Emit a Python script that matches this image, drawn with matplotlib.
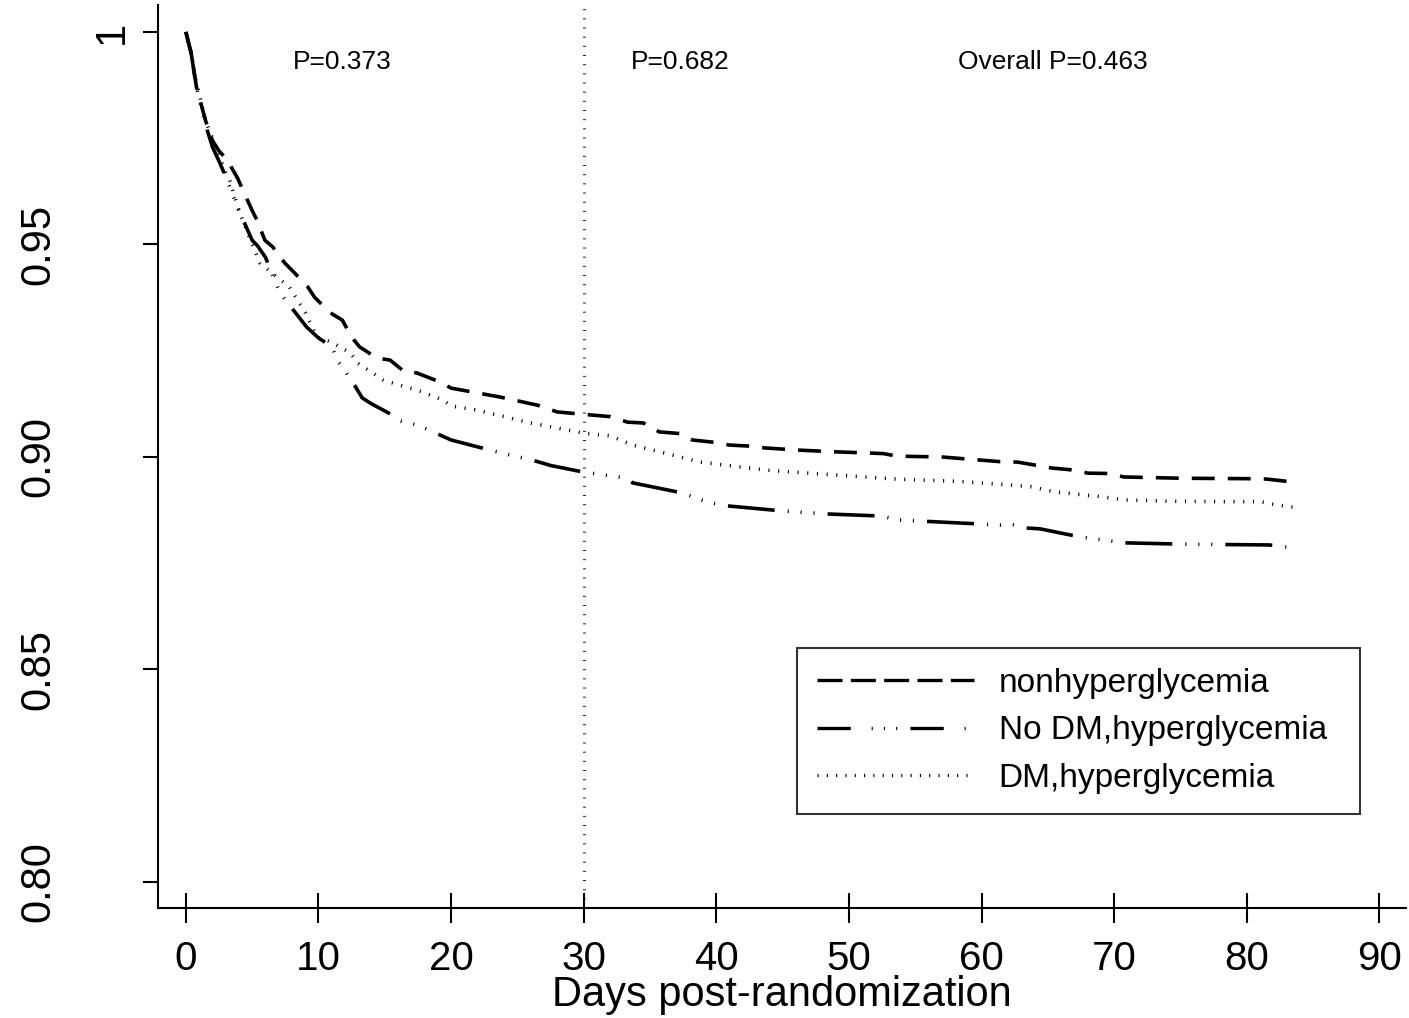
import matplotlib
matplotlib.use("Agg")
import matplotlib.pyplot as plt
from matplotlib.lines import Line2D

plt.rcParams['font.family'] = ['Liberation Sans', 'DejaVu Sans']
plt.rcParams['lines.scale_dashes'] = False

# ---- data ----
days_non = [0, 0.4, 0.8, 1.5, 2.0, 2.5, 3.1, 3.9, 4.3, 5.0, 5.35, 5.96, 6.56, 7.47, 8.2, 9.2,
            9.7, 10.9, 11.8, 12.5, 13.1, 14.4, 15.4, 16.5, 17.4, 19.2, 20.0, 23.7, 26.5, 28.0,
            30.5, 32.0, 33.3, 34.5, 35.7, 37.3, 38.2, 39.7, 41.0, 42.3, 43.8, 46.3, 49.1, 51.8,
            52.6, 53.6, 57.0, 61.4, 62.7, 64.4, 65.3, 67.0, 68.0, 69.8, 70.7, 75.0, 80.0, 81.5, 83.5]
surv_non = [1.0, 0.995, 0.987, 0.979, 0.9745, 0.972, 0.970, 0.9656, 0.9628, 0.958, 0.9558, 0.951,
            0.9494, 0.9456, 0.9433, 0.940, 0.9376, 0.9339, 0.9322, 0.9282, 0.9259, 0.9233, 0.9228,
            0.920, 0.9198, 0.9176, 0.9162, 0.9141, 0.9122, 0.9106, 0.9099, 0.9095, 0.9082, 0.9080,
            0.9059, 0.9055, 0.9040, 0.9035, 0.9028, 0.9026, 0.9021, 0.9016, 0.9012, 0.9009, 0.9008,
            0.9002, 0.9000, 0.8989, 0.8988, 0.8979, 0.8974, 0.8969, 0.8962, 0.8961, 0.8953, 0.8950,
            0.8949, 0.8948, 0.8941]

days_nodm = [0, 0.4, 0.8, 1.5, 2.0, 2.56, 3.0, 4.0, 5.0, 5.4, 6.0, 7.1, 8.0, 9.1, 10.0, 11.0, 11.5,
             12.5, 13.3, 14.0, 15.5, 16.1, 17.5, 20.0, 23.7, 26.1, 27.5, 29.9, 33.3, 33.7, 37.5,
             39.3, 40.8, 45.0, 48.3, 52.5, 53.6, 57.5, 61.4, 62.4, 63.3, 64.4, 67.4, 70.8, 75.0,
             78.4, 81.7, 83.5]
surv_nodm = [1.0, 0.995, 0.987, 0.978, 0.973, 0.9692, 0.966, 0.958, 0.951, 0.9497, 0.947, 0.9386,
             0.935, 0.9306, 0.928, 0.926, 0.9224, 0.918, 0.9139, 0.9125, 0.910, 0.9085, 0.9075,
             0.904, 0.901, 0.8993, 0.898, 0.8965, 0.8950, 0.8939, 0.8915, 0.8894, 0.8885, 0.8873,
             0.8866, 0.8861, 0.8852, 0.8846, 0.8840, 0.8840, 0.8833, 0.8831, 0.8812, 0.8798, 0.8795,
             0.8794, 0.8793, 0.8786]

days_dm = [0, 0.4, 0.8, 1.06, 1.5, 2.0, 3.0, 3.3, 4.0, 5.0, 5.6, 7.0, 7.8, 9.0, 9.9, 11.0, 12.4,
           13.0, 14.9, 16.0, 17.4, 19.4, 20.0, 22.0, 24.0, 26.0, 28.0, 30.0, 32.0, 33.7, 36.0,
           38.8, 43.8, 48.8, 53.6, 58.0, 61.4, 63.7, 65.5, 67.0, 68.9, 70.8, 74.0, 78.0, 81.0,
           82.3, 83.5]
surv_dm = [1.0, 0.995, 0.988, 0.9847, 0.979, 0.975, 0.967, 0.9652, 0.958, 0.950, 0.9456, 0.942,
           0.940, 0.934, 0.9282, 0.927, 0.9245, 0.922, 0.9181, 0.917, 0.9158, 0.9134, 0.912, 0.911,
           0.9095, 0.908, 0.9068, 0.9056, 0.905, 0.9028, 0.901, 0.8988, 0.8969, 0.8958, 0.8948,
           0.8943, 0.8936, 0.8930, 0.8918, 0.8913, 0.8907, 0.8899, 0.8896, 0.8895, 0.8895,
           0.8887, 0.8882]

labels = ["nonhyperglycemia", "No DM,hyperglycemia", "DM,hyperglycemia"]
x_ticks = [0, 10, 20, 30, 40, 50, 60, 70, 80, 90]
y_ticks = [0.80, 0.85, 0.90, 0.95]
y_ticklabels = ["0.80", "0.85", "0.90", "0.95"]
p_texts = ["P=0.373", "P=0.682", "Overall P=0.463"]
p_x = [11.8, 37.3, 65.4]
p_y = 0.9913
landmark_day = 30

# ---- styles ----
st_non = dict(color='black', lw=2.6, dashes=(16.5, 9.4), dash_capstyle='butt', solid_capstyle='butt')
st_nodm = dict(color='black', lw=2.6, dashes=(33.8, 9.4, 0.8, 8.5, 0.8, 8.5, 0.8, 9.4),
               dash_capstyle='butt', solid_capstyle='butt')
st_dm = dict(color='black', lw=2.6, dashes=(0.8, 6.2), dash_capstyle='butt')

fig = plt.figure(figsize=(14.09, 10.18), dpi=100)
ax = fig.add_axes([158/1409, 1 - 908/1018, (1406 - 158)/1409, (908 - 5)/1018])

ax.plot(days_non, surv_non, **st_non)
ax.plot(days_nodm, surv_nodm, **st_nodm)
ax.plot(days_dm, surv_dm, **st_dm)

ax.axvline(landmark_day, color='#222222', lw=2.2, dashes=(0.7, 5.9), dash_capstyle='butt')

ax.set_xlim(-2.1, 92.0)
ax.set_ylim(0.79388, 1.00635)

for s in ['top', 'right']:
    ax.spines[s].set_visible(False)
for s in ['left', 'bottom']:
    ax.spines[s].set_linewidth(1.5)

ax.set_xticks(x_ticks)
ax.set_xticklabels([str(v) for v in x_ticks])
ax.set_yticks(y_ticks + [1.0])
ax.set_yticklabels(y_ticklabels + [""])
ax.tick_params(axis='x', direction='inout', length=22, width=1.5, pad=12, labelsize=29)
ax.tick_params(axis='y', direction='out', length=11, width=1.5, pad=61, labelsize=30)
for lab in ax.get_yticklabels():
    lab.set_rotation(90)
    lab.set_va('center')

ax.annotate("1", xy=(0, 1.0), xycoords=('axes fraction', 'data'), xytext=(-19, 0),
            textcoords='offset points', ha='right', va='center', rotation=90, fontsize=30)

ax.set_xlabel("Days post-randomization", fontsize=30, labelpad=-2)

for t, x in zip(p_texts, p_x):
    ax.text(x, p_y, t, ha='center', va='baseline', fontsize=19)

handles = [Line2D([], [], color='black', lw=2.4, dashes=(18, 6), dash_capstyle='butt'),
           Line2D([], [], color='black', lw=2.4, dashes=(24, 15, 0.8, 8, 0.8, 8, 0.8, 9.5),
                  dash_capstyle='butt'),
           Line2D([], [], color='black', lw=2.4, dashes=(0.8, 5.9), dash_capstyle='butt')]
leg = ax.legend(handles, labels, loc='upper left',
                bbox_to_anchor=((797 - 158)/1248, (908 - 648)/903, (1360 - 797)/1248, 0.0),
                mode='expand', fontsize=24, frameon=True, fancybox=False, borderpad=0.6,
                labelspacing=0.49, handlelength=4.7, handletextpad=0.75, borderaxespad=0)
leg.get_frame().set_edgecolor('black')
leg.get_frame().set_linewidth(1.5)

fig.savefig("out.png", dpi=100, facecolor='white')
